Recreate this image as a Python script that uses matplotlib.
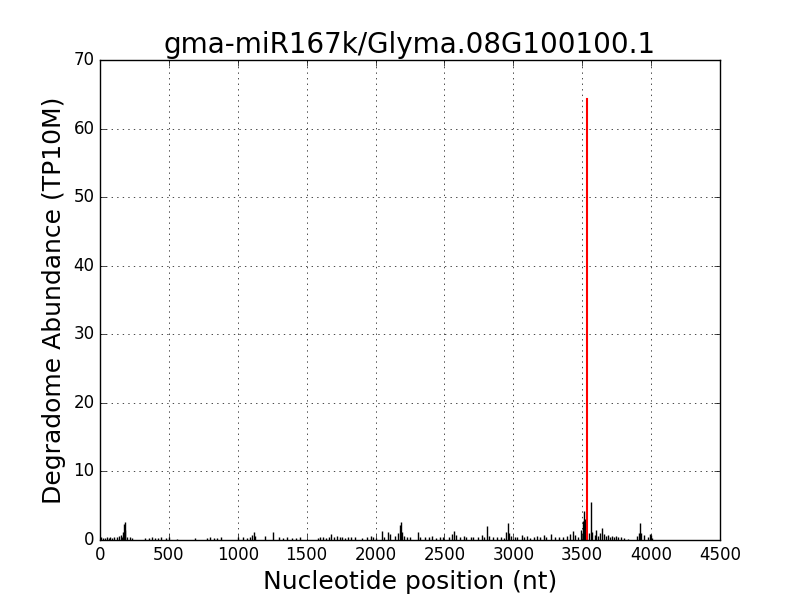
import matplotlib
matplotlib.use("Agg")
import matplotlib.pyplot as plt

# degradome tags along the transcript (position in nt, abundance TP10M)
positions = [5, 20, 35, 50, 62, 75, 90, 105, 120, 135, 150, 160, 170, 176, 180, 184, 195, 215, 230,
             330, 355, 375, 400, 420, 445, 480, 500, 560, 690,
             780, 800, 830, 850, 880, 1000, 1040, 1065, 1090, 1105, 1115, 1125, 1200, 1255, 1300,
             1330, 1360, 1390, 1420, 1455,
             1580, 1600, 1620, 1640, 1660, 1680, 1700, 1720, 1740, 1760, 1780, 1800, 1820, 1850,
             1900, 1940, 1965, 1985, 2005, 2050, 2060, 2090, 2105, 2140, 2160, 2175, 2183, 2190,
             2210, 2230, 2250,
             2310, 2320, 2360, 2390, 2410, 2440, 2470, 2490, 2530, 2555, 2570, 2585, 2610, 2640,
             2660, 2690, 2710, 2740, 2770, 2790, 2810, 2820, 2850, 2880, 2910, 2930, 2950, 2960,
             2970, 2985, 3010,
             3030, 3060, 3075, 3100, 3120, 3150, 3170, 3195, 3220, 3240, 3270, 3300, 3330, 3360,
             3390, 3410, 3430, 3445, 3470, 3490, 3505, 3515, 3522,
             3548, 3563, 3570, 3590, 3600, 3615, 3630, 3645, 3655, 3670, 3685, 3700, 3715, 3730,
             3745, 3760, 3780, 3800, 3830, 3900, 3915, 3920, 3930, 3950, 3975, 3990, 4000, 4010]
abundance = [0.4, 0.3, 0.3, 0.4, 0.3, 0.4, 0.3, 0.5, 0.4, 0.6, 0.8, 0.5, 1.2, 2.3, 2.6, 1.5, 0.4, 0.5, 0.3,
             0.3, 0.3, 0.4, 0.3, 0.3, 0.4, 0.3, 0.4, 0.2, 0.3,
             0.3, 0.4, 0.3, 0.3, 0.4, 0.5, 0.4, 0.3, 0.5, 0.7, 1.1, 0.6, 0.6, 1.1, 0.4,
             0.3, 0.4, 0.3, 0.3, 0.5,
             0.3, 0.4, 0.4, 0.3, 0.5, 0.9, 0.5, 0.6, 0.4, 0.4, 0.3, 0.5, 0.4, 0.4,
             0.3, 0.5, 0.6, 0.4, 0.3, 1.3, 0.5, 1.1, 0.9, 0.6, 1.0, 2.2, 2.6, 1.2,
             0.6, 0.5, 0.4,
             1.2, 0.5, 0.4, 0.5, 0.6, 0.3, 0.5, 0.4, 0.5, 0.9, 1.3, 0.8, 0.4, 0.6,
             0.5, 0.4, 0.5, 0.4, 0.8, 0.4, 2.1, 0.6, 0.4, 0.4, 0.5, 0.3, 1.2, 2.5,
             1.0, 0.6, 0.4,
             0.5, 0.8, 0.4, 0.6, 0.3, 0.5, 0.6, 0.4, 0.7, 0.5, 0.9, 0.5, 0.4, 0.5,
             0.6, 0.9, 1.3, 0.8, 0.5, 1.5, 2.8, 4.2, 3.0,
             1.0, 5.6, 1.2, 0.8, 1.4, 0.6, 1.0, 1.8, 0.9, 0.6, 0.7, 0.5, 0.6, 0.5,
             0.6, 0.4, 0.5, 0.3, 0.2, 0.6, 1.0, 2.5, 1.0, 0.7, 0.5, 0.9, 0.8, 0.3]

# predicted cleavage site
site_pos = 3534
site_val = 64.3

title = "gma-miR167k/Glyma.08G100100.1"

plt.style.use("classic")
fig = plt.figure(figsize=(8, 6), dpi=100)
ax = fig.add_axes([0.125, 0.1, 0.775, 0.8])

ax.vlines(positions, 0, abundance, color="k", lw=1.0)
ax.plot([site_pos, site_pos], [0, site_val], color="r", lw=1.5)

ax.set_xlim(0, 4500)
ax.set_ylim(0, 70)
ax.grid(True)
ax.set_title(title, fontsize=20)
ax.set_xlabel("Nucleotide position (nt)", fontsize=18)
ax.set_ylabel("Degradome Abundance (TP10M)", fontsize=18)

fig.savefig("out.png", dpi=100, facecolor="white")
